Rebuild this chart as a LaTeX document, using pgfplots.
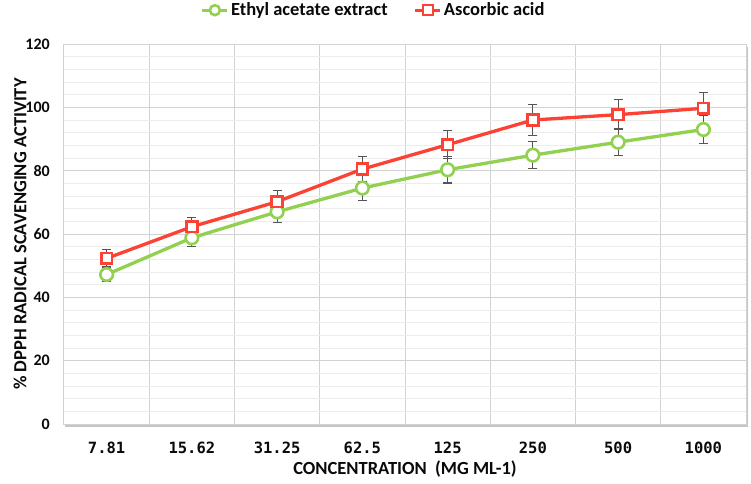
\documentclass[border=0pt]{standalone}
\usepackage{fontspec}
\setmainfont{Carlito}
\newfontfamily\monofont{DejaVu Sans Mono}
\usepackage{pgfplots}
\pgfplotsset{compat=1.18}
\usetikzlibrary{shadows}
\definecolor{cgreen}{RGB}{146,208,80}
\definecolor{cred}{RGB}{250,67,52}
\definecolor{cgrid}{RGB}{210,210,210}
\definecolor{cminor}{RGB}{236,236,236}
\definecolor{cerr}{RGB}{85,85,85}
\definecolor{ctext}{RGB}{10,10,10}
\pgfplotstableread{
x y e
0 47.2 2.2
1 58.8 2.7
2 67.0 3.3
3 74.5 4.0
4 80.3 4.2
5 84.9 4.2
6 89.0 4.3
7 93.0 4.5
}\ethyl
\pgfplotstableread{
x y e
0 52.3 2.7
1 62.3 3.0
2 70.2 3.5
3 80.5 4.0
4 88.2 4.4
5 96.0 4.8
6 97.7 4.8
7 99.7 5.0
}\ascorbic
\begin{document}
\begin{tikzpicture}
\begin{axis}[
  at={(0,0)}, anchor=south west,
  scale only axis, width=682pt, height=380pt,
  xmin=-0.5, xmax=7.5, ymin=0, ymax=120,
  xtick={0,...,7},
  xticklabels={7.81,15.62,31.25,62.5,125,250,500,1000},
  minor xtick={0.5,1.5,...,6.5},
  xminorgrids,
  ytick={0,20,...,120},
  minor y tick num=4,
  ymajorgrids, yminorgrids,
  major tick length=0pt, minor tick length=0pt,
  minor x grid style={cgrid, line width=1pt},
  major y grid style={cgrid, line width=0.8pt},
  minor y grid style={cminor, line width=0.8pt},
  axis line style={cgrid, line width=1pt},
  axis background/.style={fill=white, drop shadow={shadow xshift=1.5pt, shadow yshift=-2.5pt, opacity=0.45}},
  /pgf/number format/assume math mode=true,
  xticklabel style={font=\monofont\bfseries\fontsize{15.5}{15.5}\selectfont, text=ctext, anchor=center, yshift=-24pt},
  yticklabel style={font=\bfseries\fontsize{16}{16}\selectfont, text=ctext, anchor=east, inner sep=0pt, xshift=-14pt},
  xlabel={CONCENTRATION\ \ (MG ML-1)},
  ylabel={\% DPPH RADICAL SCAVENGING ACTIVITY},
  label style={font=\bfseries\fontsize{18.5}{18.5}\selectfont, text=ctext},
  xlabel style={at={(axis description cs:0.5,-0.118)}, anchor=center},
  ylabel style={at={(axis description cs:-0.0645,0.5)}, anchor=center},
  legend style={draw=none, fill=none, at={(axis description cs:0.454,1.089)}, anchor=center,
    font=\bfseries\fontsize{18.5}{18.5}\selectfont, text=ctext, inner sep=0pt,
    /tikz/every even column/.append style={column sep=24pt}},
  legend columns=2,
  legend cell align=left,
  legend image code/.code={\draw[#1, mark repeat=2, mark phase=2, mark size=5pt] plot coordinates {(0pt,0pt) (12.5pt,0pt) (25pt,0pt)};},
]
\addplot[cgreen, line width=3.3pt, mark=*, mark size=6.3pt,
  mark options={fill=white, draw=cgreen, line width=2.6pt, solid},
  error bars/.cd, y dir=both, y explicit,
  error bar style={cerr, line width=1.1pt},
  error mark options={rotate=90, cerr, mark size=4.6pt, line width=1.1pt}]
  table[x=x, y=y, y error=e] {\ethyl};
\addlegendentry{Ethyl acetate extract}
\addplot[cred, line width=3.3pt, mark=square*, mark size=5.4pt,
  mark options={fill=white, draw=cred, line width=2.6pt, solid},
  error bars/.cd, y dir=both, y explicit,
  error bar style={cerr, line width=1.1pt},
  error mark options={rotate=90, cerr, mark size=4.6pt, line width=1.1pt}]
  table[x=x, y=y, y error=e] {\ascorbic};
\addlegendentry{Ascorbic acid}
\end{axis}
\pgfresetboundingbox
\path[use as bounding box] (-64pt,-59pt) rectangle (687pt,424pt);
\end{tikzpicture}
\end{document}
